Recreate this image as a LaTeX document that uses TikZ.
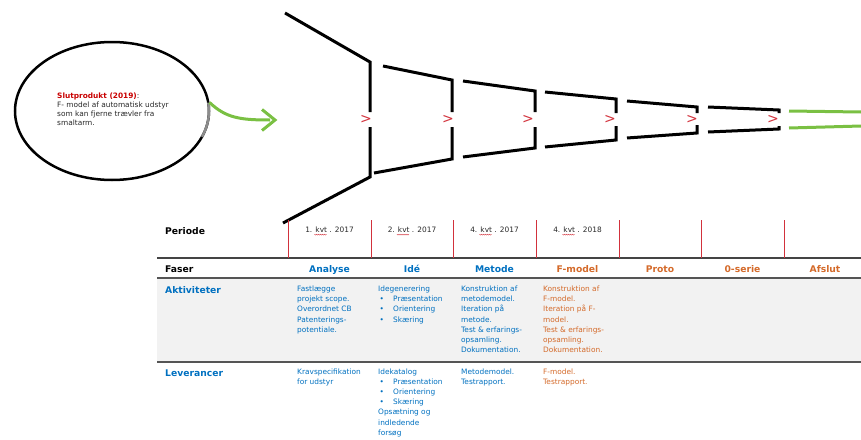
\documentclass[tikz,border=0pt]{standalone}
\usepackage{fontspec}
\setmainfont{DejaVu Sans}
\usetikzlibrary{shapes.geometric}
\definecolor{wblue}{RGB}{0,112,192}
\definecolor{worange}{RGB}{212,106,42}
\definecolor{wred}{RGB}{200,0,0}
\definecolor{fred}{RGB}{210,50,60}
\definecolor{fgreen}{RGB}{122,192,67}
\definecolor{rulegray}{RGB}{85,85,85}
\definecolor{bandgray}{RGB}{242,242,242}
\definecolor{txtgray}{RGB}{40,40,40}
\newcommand{\ibul}[1]{\makebox[15pt][l]{\hspace{1.5pt}•}#1}
\newcommand{\tlines}[1]{\begin{tabular}[t]{@{}l@{}}#1\end{tabular}}
\begin{document}
\begin{tikzpicture}[x=1pt,y=-1pt,
  funnel/.style={line width=3pt, black, line join=miter},
  gline/.style={line width=3pt, fgreen},
  chev/.style={text=fred, font=\fontsize{14}{14}\selectfont, inner sep=0},
  body/.style={font=\fontsize{7.4}{10.2}\selectfont, anchor=base west, inner sep=0},
  hdr/.style={font=\fontsize{9.2}{11}\selectfont\bfseries, anchor=base, inner sep=0},
  rowhdr/.style={font=\fontsize{9.2}{11}\selectfont\bfseries, anchor=base west, inner sep=0},
  per/.style={font=\fontsize{7.4}{10}\selectfont, text=txtgray, anchor=base, inner sep=0},
  squig/.style={fred, line width=0.45pt},
  redrule/.style={line width=1pt, fred},
  tabrule/.style={line width=1.8pt, rulegray}]
\useasboundingbox (0,0) rectangle (861,439);

% ---- product ellipse ----
\node[draw, ellipse, line width=2.5pt, minimum width=194, minimum height=138, inner sep=0] (prod) at (112,111) {};
\draw[line width=2.5pt, gray!90] (208.3,102.6) arc[start angle=-7, end angle=22, x radius=97, y radius=69];
\node[body, font=\fontsize{7.4}{9}\selectfont, text=txtgray] (ptxt) at (57,98)
  {\tlines{{\bfseries\color{wred}Slutprodukt (2019)}:\\F- model af automatisk udstyr\\som kan fjerne trævler fra\\smaltarm.}};

% ---- green arrow ----
\coordinate (gend) at (270,120);
\coordinate (gtip) at (275,120);
\draw[gline] (prod.5) .. controls (226,118) and (240,120) .. (gend);
\draw[gline, line join=miter] (262,109.5) -- (gtip) -- (262,130.5);

% ---- funnel ----
\draw[funnel] (285,13) -- (370,62) -- (370,112);
\draw[funnel] (370,127) -- (370,177) -- (283,223);
\draw[funnel] (383,66) -- (452,80) -- (452,112);
\draw[funnel] (452,127) -- (452,159) -- (374,173);
\draw[funnel] (463,81) -- (535,91) -- (535,112);
\draw[funnel] (535,127) -- (535,148) -- (463,157);
\draw[funnel] (545,92) -- (616,99) -- (616,113);
\draw[funnel] (616,126) -- (616,140) -- (545,147);
\draw[funnel] (627,101) -- (697,107) -- (697,113);
\draw[funnel] (697,125) -- (697,133) -- (627,138);
\draw[funnel] (708,107) -- (779,110) -- (779,113);
\draw[funnel] (779,126) -- (779,129) -- (708,132);
\foreach \cx [count=\i] in {366,448,528,610,692,773}
  \node[chev] (ch\i) at (\cx,119) {>};
\coordinate (gl1) at (789,111); \coordinate (gl2) at (861,112);
\coordinate (gl3) at (789,128); \coordinate (gl4) at (861,126);
\draw[gline] (gl1) -- (gl2);
\draw[gline] (gl3) -- (gl4);

% ---- table ----
\fill[bandgray] (157,278) rectangle (861,362);
\draw[line width=1.3pt, rulegray!80!black] (157,258) -- (861,258);
\draw[tabrule] (157,278) -- (861,278);
\draw[tabrule] (157,362) -- (861,362);
\foreach \rx in {288,371,453,536,619,701,784}
  \draw[redrule] (\rx,220) -- (\rx,258);

\node[rowhdr] (periode) at (165,234) {Periode};
\node[per] (p1) at (329.5,232) {1. kvt . 2017};
\node[per] (p2) at (412,232) {2. kvt . 2017};
\node[per] (p3) at (494.5,232) {4. kvt . 2017};
\node[per] (p4) at (577.5,232) {4. kvt . 2018};
\foreach \n in {p1,p2,p3,p4}
  \draw[squig] ([xshift=9.4pt,yshift=-2.2pt]\n.base west) \foreach \k in {1,...,6} { -- ++(1,0.8) -- ++(1,-0.8)};

\node[rowhdr] (faser) at (165,272) {Faser};
\node[hdr, text=wblue] (f1) at (329.5,272) {Analyse};
\node[hdr, text=wblue] (f2) at (412,272) {Idé};
\node[hdr, text=wblue] (f3) at (494.5,272) {Metode};
\node[hdr, text=worange] (f4) at (577.5,272) {F-model};
\node[hdr, text=worange] (f5) at (660,272) {Proto};
\node[hdr, text=worange] (f6) at (742.5,272) {0-serie};
\node[hdr, text=worange] (f7) at (825,272) {Afslut};

\node[rowhdr, text=wblue] (akt) at (165,293) {Aktiviteter};
\node[body, text=wblue] (a1) at (297,291.5) {\tlines{Fastlægge\\projekt scope.\\Overordnet CB\\Patenterings-\\potentiale.}};
\node[body, text=wblue] (a2) at (378,291.5) {\tlines{Idegenerering\\\ibul{Præsentation}\\\ibul{Orientering}\\\ibul{Skæring}}};
\node[body, text=wblue] (a3) at (461,291.5) {\tlines{Konstruktion af\\metodemodel.\\Iteration på\\metode.\\Test \& erfarings-\\opsamling.\\Dokumentation.}};
\node[body, text=worange] (a4) at (543,291.5) {\tlines{Konstruktion af\\F-model.\\Iteration på F-\\model.\\Test \& erfarings-\\opsamling.\\Dokumentation.}};

\node[rowhdr, text=wblue] (lev) at (165,376) {Leverancer};
\node[body, text=wblue] (l1) at (297,374) {\tlines{Kravspecifikation\\for udstyr}};
\node[body, text=wblue] (l2) at (378,374) {\tlines{Idekatalog\\\ibul{Præsentation}\\\ibul{Orientering}\\\ibul{Skæring}\\Opsætning og\\indledende\\forsøg}};
\node[body, text=wblue] (l3) at (461,374) {\tlines{Metodemodel.\\Testrapport.}};
\node[body, text=worange] (l4) at (543,374) {\tlines{F-model.\\Testrapport.}};
\end{tikzpicture}
\end{document}
